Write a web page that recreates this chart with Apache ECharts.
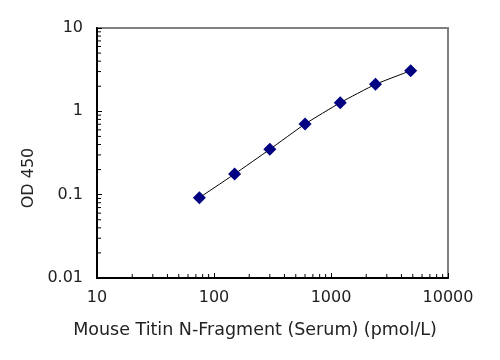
<!DOCTYPE html>
<html>
<head>
<meta charset="utf-8">
<script src="https://cdn.jsdelivr.net/npm/echarts@6/dist/echarts.min.js"></script>
<style>html,body{margin:0;padding:0;background:#fff}#c{width:500px;height:360px}</style>
</head>
<body>
<div id="c"></div>
<script>
var concentrations = [75, 150, 300, 600, 1200, 2400, 4800];
var odValues = [0.092, 0.177, 0.350, 0.705, 1.27, 2.11, 3.07];
var xMinorTicks = [20,30,40,50,60,70,80,90,200,300,400,500,600,700,800,900,2000,3000,4000,5000,6000,7000,8000,9000];
var yMinorTicks = [0.02,0.03,0.04,0.05,0.06,0.07,0.08,0.09,0.2,0.3,0.4,0.5,0.6,0.7,0.8,0.9,2,3,4,5,6,7,8,9];
var xTitle = 'Mouse Titin N-Fragment (Serum) (pmol/L)';
var yTitle = 'OD 450';

var FONT = '"DejaVu Sans", sans-serif';
var points = concentrations.map(function (c, i) { return [c, odValues[i]]; });

var chart = echarts.init(document.getElementById('c'));
chart.setOption({
  animation: false,
  grid: { left: 97, right: 52, top: 28, bottom: 82, show: true, borderColor: '#808080', borderWidth: 2, backgroundColor: 'transparent' },
  xAxis: {
    type: 'log', logBase: 10, min: 10, max: 10000,
    name: xTitle, nameLocation: 'middle', nameGap: 43,
    nameTextStyle: { fontFamily: FONT, fontSize: 17.5, color: '#222', padding: [0, 35, 0, 0] },
    axisLine: { lineStyle: { color: '#000', width: 2 } },
    axisTick: { inside: true, length: 5, lineStyle: { color: '#000', width: 1 } },
    axisLabel: { fontFamily: FONT, fontSize: 16, color: '#222', margin: 12, formatter: function (v) { return String(v); } },
    splitLine: { show: false }
  },
  yAxis: {
    type: 'log', logBase: 10, min: 0.01, max: 10,
    name: yTitle, nameLocation: 'middle', nameGap: 57,
    nameTextStyle: { fontFamily: FONT, fontSize: 16, color: '#222', padding: [0, 50, 0, 0] },
    axisLine: { lineStyle: { color: '#000', width: 2 } },
    axisTick: { inside: true, length: 5, lineStyle: { color: '#000', width: 1 } },
    axisLabel: { fontFamily: FONT, fontSize: 16, color: '#222', margin: 14, formatter: function (v) { return String(v); } },
    splitLine: { show: false }
  },
  series: [
    {
      type: 'custom', clip: false, silent: true,
      data: xMinorTicks.map(function (v) { return [v, 0.01]; }),
      renderItem: function (params, api) {
        var p = api.coord([api.value(0), api.value(1)]);
        return { type: 'line', shape: { x1: p[0], y1: p[1], x2: p[0], y2: p[1] - 4 }, style: { stroke: '#000', lineWidth: 1 } };
      }
    },
    {
      type: 'custom', clip: false, silent: true,
      data: yMinorTicks.map(function (v) { return [10, v]; }),
      renderItem: function (params, api) {
        var p = api.coord([api.value(0), api.value(1)]);
        return { type: 'line', shape: { x1: p[0], y1: p[1], x2: p[0] + 4, y2: p[1] }, style: { stroke: '#000', lineWidth: 1 } };
      }
    },
    {
      type: 'line', data: points, smooth: 0.15, showSymbol: false,
      lineStyle: { color: '#000', width: 1 }, z: 2
    },
    {
      type: 'scatter', data: points, symbol: 'diamond', symbolSize: 13,
      itemStyle: { color: '#000080', opacity: 1 }, z: 3
    }
  ]
});
</script>
</body>
</html>
